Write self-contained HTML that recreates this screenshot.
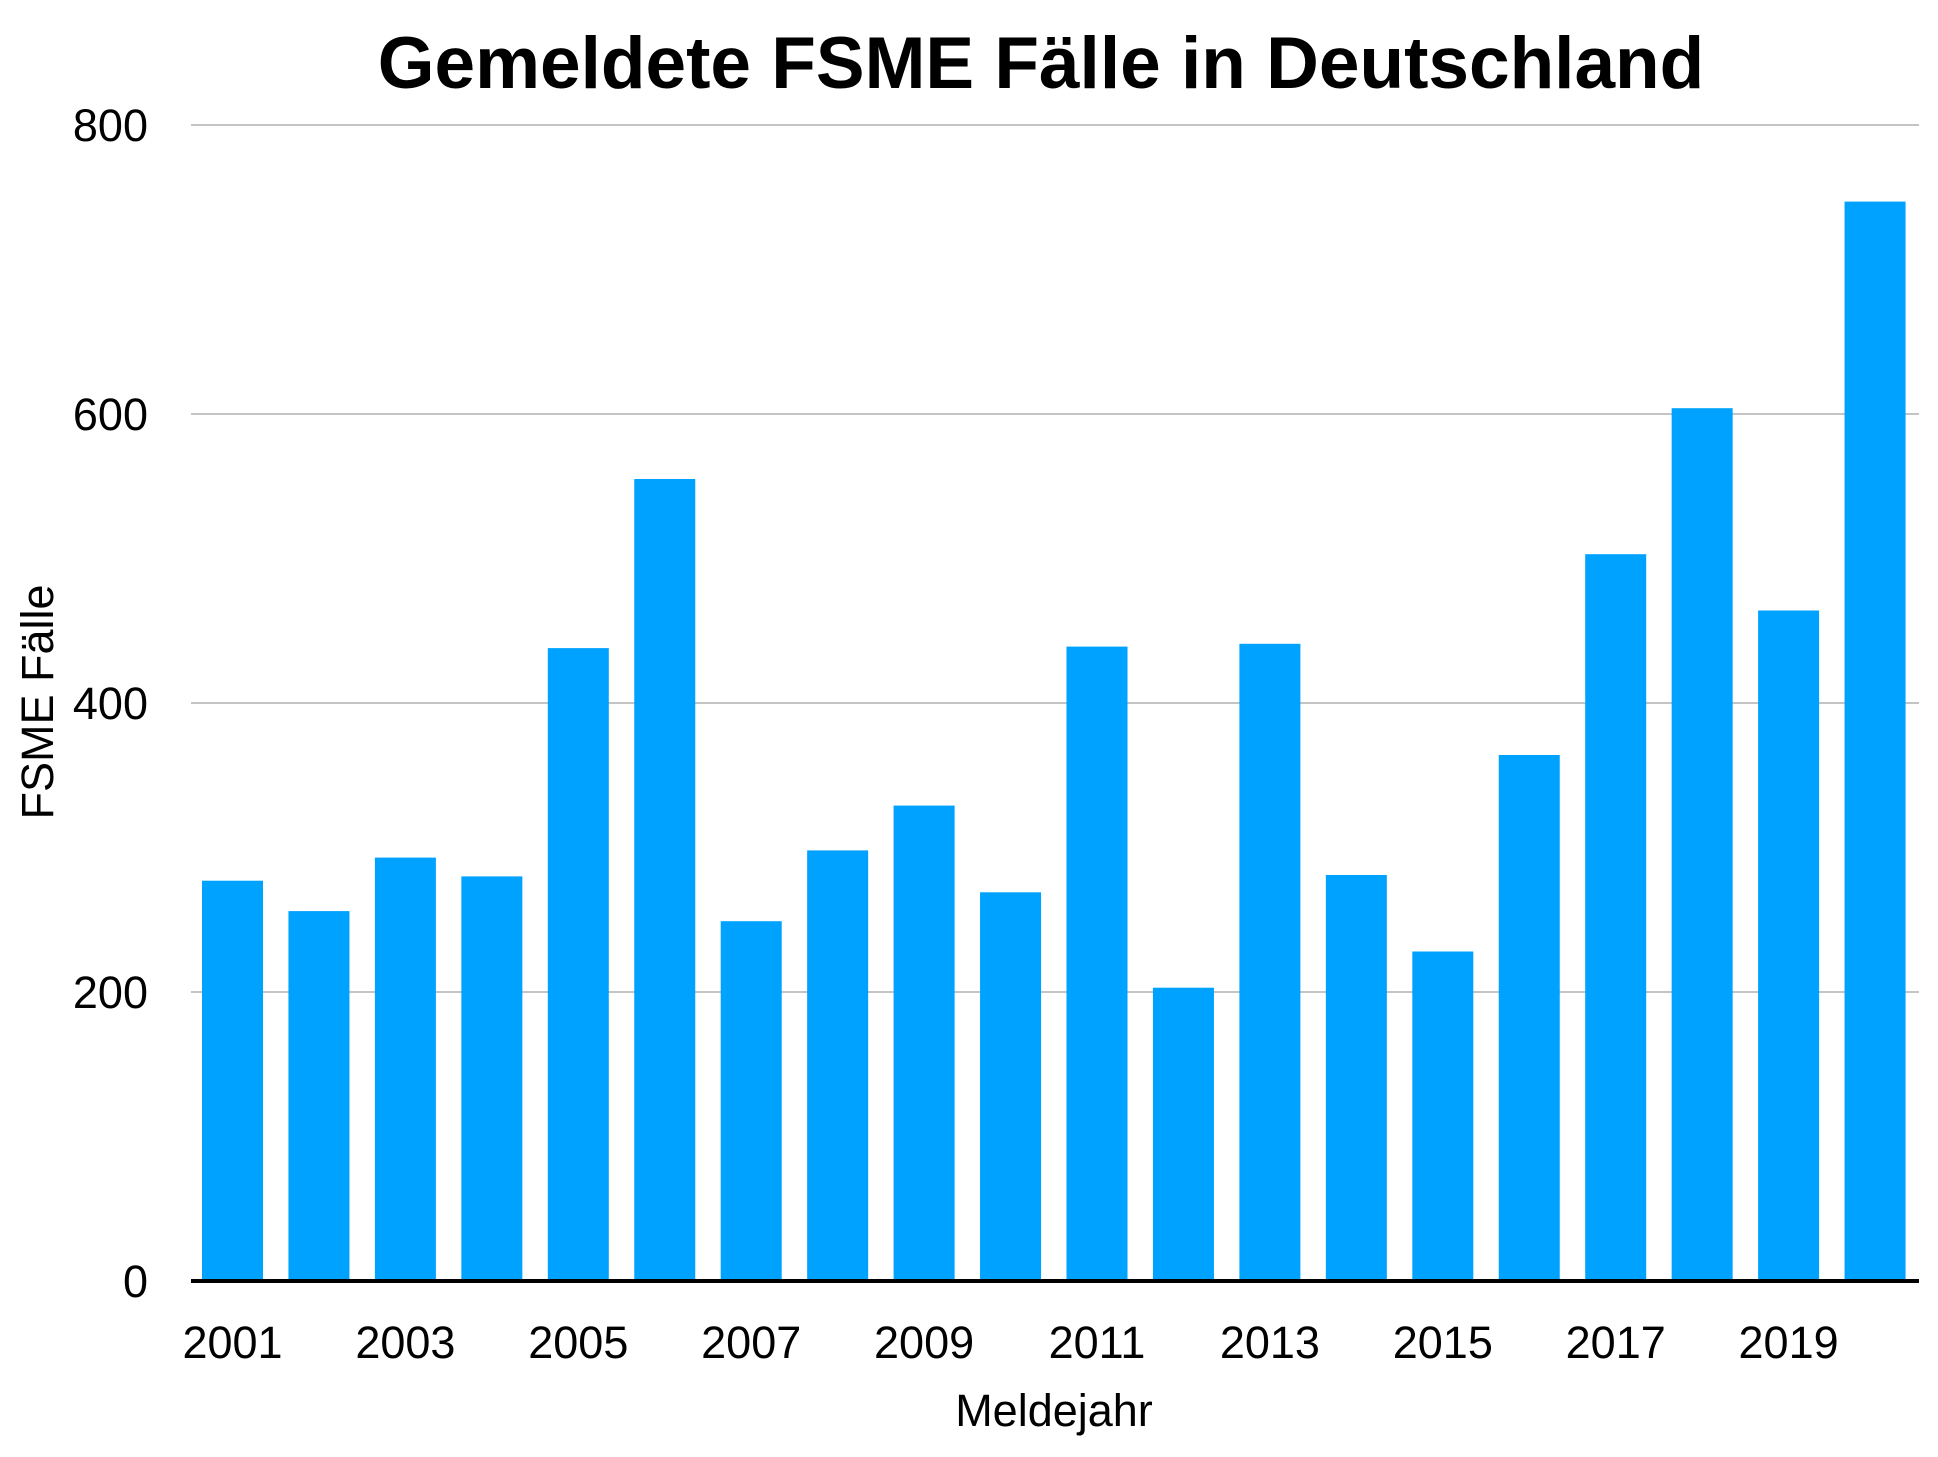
<!DOCTYPE html>
<html><head><meta charset="utf-8"><style>html,body{margin:0;padding:0;background:#fff}</style></head>
<body>
<svg width="1938" height="1452" xmlns="http://www.w3.org/2000/svg" font-family="Liberation Sans, sans-serif">
<rect width="1938" height="1452" fill="#fff"/>
<text x="1041" y="88" font-size="73" font-weight="bold" text-anchor="middle">Gemeldete FSME Fälle in Deutschland</text>
<g stroke="#b0b0b0" stroke-width="1.5">
<line x1="191" y1="125" x2="1919" y2="125"/>
<line x1="191" y1="414" x2="1919" y2="414"/>
<line x1="191" y1="703" x2="1919" y2="703"/>
<line x1="191" y1="992" x2="1919" y2="992"/>
</g>
<g font-size="45" text-anchor="end">
<text x="148" y="141">800</text>
<text x="148" y="430">600</text>
<text x="148" y="719">400</text>
<text x="148" y="1008">200</text>
<text x="148" y="1297">0</text>
</g>
<g fill="#00a2ff">
<rect x="202" y="880.7" width="61" height="400.3"/>
<rect x="288.45" y="911.1" width="61" height="369.9"/>
<rect x="374.9" y="857.6" width="61" height="423.4"/>
<rect x="461.35" y="876.4" width="61" height="404.6"/>
<rect x="547.8" y="648.1" width="61" height="632.9"/>
<rect x="634.25" y="479" width="61" height="802"/>
<rect x="720.7" y="921.2" width="61" height="359.8"/>
<rect x="807.15" y="850.4" width="61" height="430.6"/>
<rect x="893.6" y="805.6" width="61" height="475.4"/>
<rect x="980.05" y="892.3" width="61" height="388.7"/>
<rect x="1066.5" y="646.6" width="61" height="634.4"/>
<rect x="1152.95" y="987.7" width="61" height="293.3"/>
<rect x="1239.4" y="643.8" width="61" height="637.2"/>
<rect x="1325.85" y="875" width="61" height="406"/>
<rect x="1412.3" y="951.5" width="61" height="329.5"/>
<rect x="1498.75" y="755" width="61" height="526"/>
<rect x="1585.2" y="554.2" width="61" height="726.8"/>
<rect x="1671.65" y="408.2" width="61" height="872.8"/>
<rect x="1758.1" y="610.5" width="61" height="670.5"/>
<rect x="1844.55" y="201.6" width="61" height="1079.4"/>
</g>
<line x1="191" y1="1281" x2="1919" y2="1281" stroke="#000" stroke-width="4"/>
<g font-size="45" text-anchor="middle">
<text x="232.5" y="1358">2001</text>
<text x="405.4" y="1358">2003</text>
<text x="578.3" y="1358">2005</text>
<text x="751.2" y="1358">2007</text>
<text x="924.1" y="1358">2009</text>
<text x="1097" y="1358">2011</text>
<text x="1269.9" y="1358">2013</text>
<text x="1442.8" y="1358">2015</text>
<text x="1615.7" y="1358">2017</text>
<text x="1788.6" y="1358">2019</text>
</g>
<text x="1054" y="1426" font-size="45" text-anchor="middle">Meldejahr</text>
<text transform="translate(53,702) rotate(-90)" font-size="45" text-anchor="middle">FSME Fälle</text>
</svg>
</body></html>
